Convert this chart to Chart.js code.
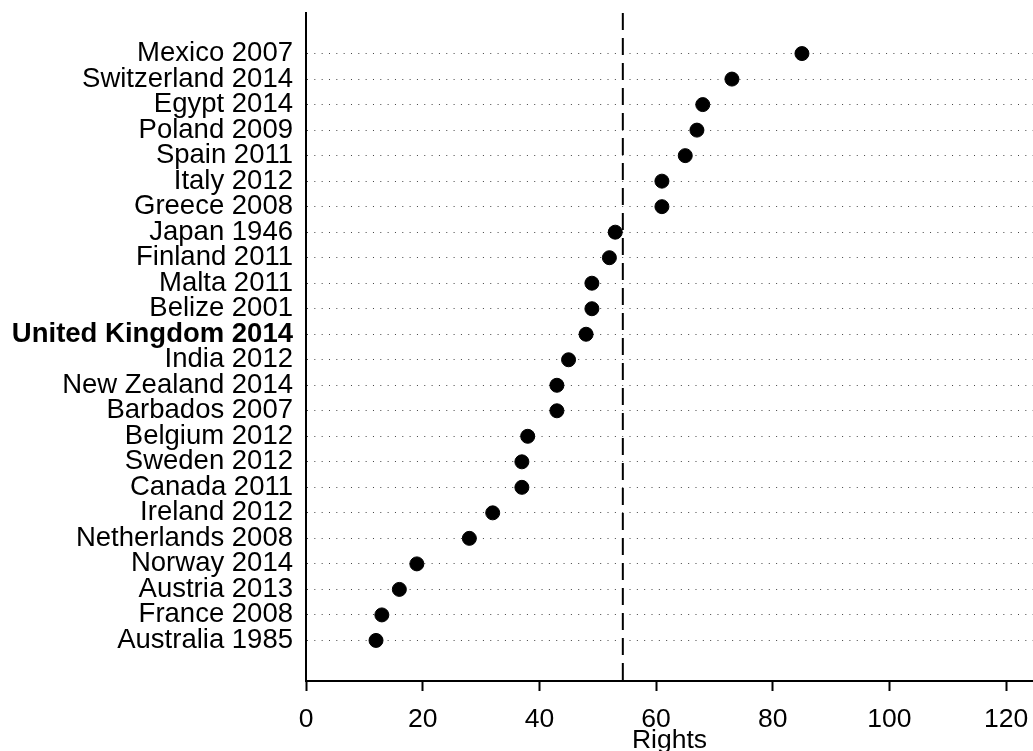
<!DOCTYPE html>
<html>
<head>
<meta charset="utf-8">
<script src="https://cdn.jsdelivr.net/npm/chart.js@4"></script>
<style>
  html, body { margin: 0; padding: 0; background: #fff; }
  #wrap { width: 1033px; height: 751px; position: relative; }
</style>
</head>
<body>
<div id="wrap"><canvas id="c"></canvas></div>
<script>
const categories = [
  "Mexico 2007", "Switzerland 2014", "Egypt 2014", "Poland 2009", "Spain 2011",
  "Italy 2012", "Greece 2008", "Japan 1946", "Finland 2011", "Malta 2011",
  "Belize 2001", "United Kingdom 2014", "India 2012", "New Zealand 2014",
  "Barbados 2007", "Belgium 2012", "Sweden 2012", "Canada 2011", "Ireland 2012",
  "Netherlands 2008", "Norway 2014", "Austria 2013", "France 2008", "Australia 1985"
];
const rights = [85, 73, 68, 67, 65, 61, 61, 53, 52, 49, 49, 48, 45, 43, 43, 38, 37, 37, 32, 28, 19, 16, 13, 12];
const highlighted = "United Kingdom 2014";
const referenceLine = 54.3;
const xTicks = [0, 20, 40, 60, 80, 100, 120];
const xTitle = "Rights";

const FONT = "'Liberation Sans', Arial, sans-serif";
const yMin = -0.59, yMax = categories.length + 1.59;

const points = rights.map((v, i) => ({ x: v, y: i + 1 }));

new Chart(document.getElementById('c'), {
  type: 'scatter',
  data: {
    datasets: [
      { data: points, backgroundColor: '#000', borderColor: '#000', pointRadius: 7, pointHoverRadius: 7, order: 1 },
      { type: 'line', data: [{ x: referenceLine, y: yMin }, { x: referenceLine, y: yMax }],
        borderColor: '#000', borderWidth: 2, borderDash: [17, 8], pointRadius: 0, fill: false, order: 2 }
    ]
  },
  options: {
    responsive: true, maintainAspectRatio: false, animation: false, events: [],
    layout: { autoPadding: false, padding: { top: 13, right: 0, bottom: 0, left: 0 } },
    plugins: { legend: { display: false }, tooltip: { enabled: false }, title: { display: false } },
    scales: {
      x: {
        type: 'linear', min: 0, max: 124.6,
        afterBuildTicks: (s) => { s.ticks = xTicks.map(v => ({ value: v })); },
        afterFit: (s) => { s.height = 70; s.paddingRight = 0; s.paddingLeft = 0; },
        ticks: { color: '#000', font: { family: FONT, size: 26.5 }, padding: 13, maxRotation: 0, autoSkip: false },
        grid: { drawOnChartArea: false, drawTicks: true, tickLength: 10, tickWidth: 2, tickColor: '#000' },
        border: { display: true, color: '#000', width: 2 },
        title: { display: true, text: xTitle, color: '#000', font: { family: FONT, size: 26.5, lineHeight: 0.8 }, padding: { top: 0, bottom: 0 } }
      },
      y: {
        type: 'linear', reverse: true, min: yMin, max: yMax,
        afterBuildTicks: (s) => { s.ticks = categories.map((_, i) => ({ value: i + 1 })); },
        afterFit: (s) => { s.width = 306; s.paddingTop = 0; s.paddingBottom = 0; },
        ticks: { color: '#000', autoSkip: false, padding: 13, callback: (v) => categories[v - 1],
          font: (ctx) => ({ family: FONT, size: 27.5, weight: (ctx.tick && categories[ctx.tick.value - 1] === highlighted) ? 'bold' : 'normal' }) },
        grid: { drawOnChartArea: true, drawTicks: false, color: '#444', lineWidth: 1 },
        border: { display: true, color: '#000', width: 2, dash: [1, 6.33] }
      }
    }
  }
});
</script>
</body>
</html>
